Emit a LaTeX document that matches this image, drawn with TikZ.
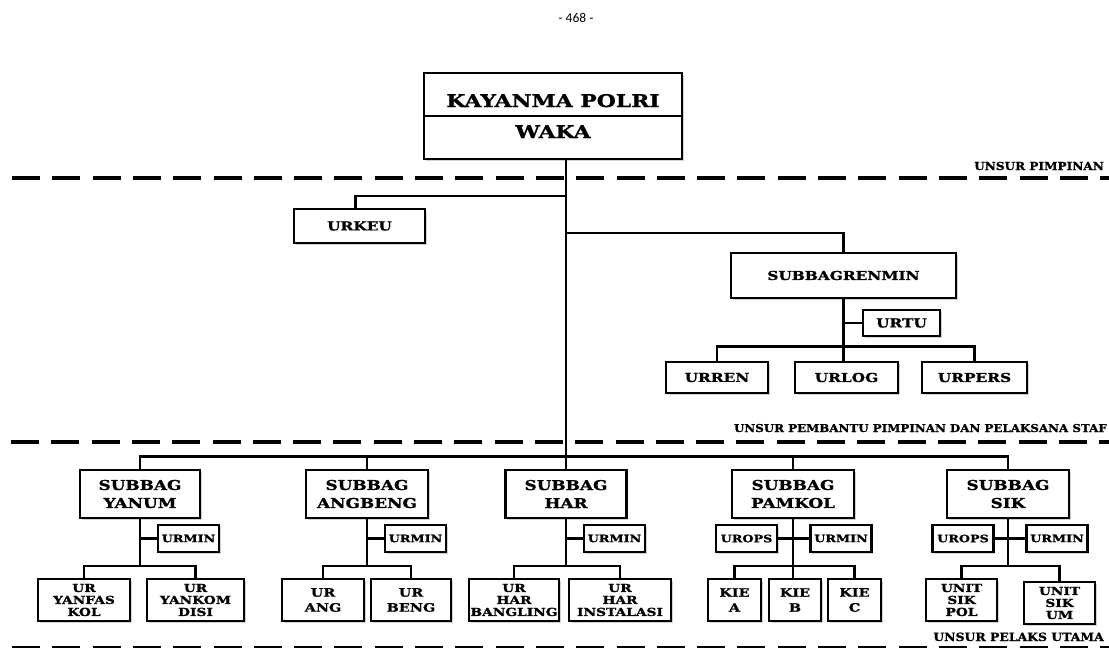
\documentclass[tikz,border=0pt]{standalone}
\usepackage{fontspec}
\newfontfamily\bkf[FakeStretch=1.25, BoldFeatures={FakeBold=1.2}]{DejaVu Serif}
\newfontfamily\lbf[FakeStretch=1.1, BoldFeatures={FakeBold=1.2}]{DejaVu Serif}
\newfontfamily\pagenumfont{Carlito}
\usetikzlibrary{shadows}
\newcommand\fntT{\bkf\bfseries\fontsize{17.5}{20}\selectfont}
\newcommand\fntA{\bkf\bfseries\fontsize{13.5}{18}\selectfont}
\newcommand\fntB{\bkf\bfseries\fontsize{12.3}{15}\selectfont}
\newcommand\fntC{\bkf\bfseries\fontsize{10.2}{12}\selectfont}
\newcommand\fntD{\bkf\bfseries\fontsize{11}{12}\selectfont}
\newcommand\fntE{\bkf\bfseries\fontsize{11.5}{15}\selectfont}
\begin{document}
\begin{tikzpicture}[x=1pt,y=-1pt,
  box/.style={draw=black, line width=2.7pt, fill=white, inner sep=0pt, align=center,
    drop shadow={shadow xshift=1.5pt, shadow yshift=-2pt, opacity=0.3, fill=black!60}},
  conn/.style={line width=2.7pt},
  dashline/.style={line width=3.2pt, dash pattern=on 28pt off 12.3pt},
  lbl/.style={anchor=base east, inner sep=0pt},
  big/.style={box, minimum width=#1, minimum height=48pt, font=\fntA},
  mid/.style={box, minimum width=#1, minimum height=31pt, font=\fntB},
  sml/.style={box, minimum width=61pt, minimum height=27pt, font=\fntC},
  kid/.style={box, minimum width=#1, minimum height=42pt, font=\fntD},
  kidb/.style={box, minimum width=#1, minimum height=42pt, font=\fntE},
]
\useasboundingbox (0,0) rectangle (1109,648);

% page number
\node[font=\pagenumfont\fontsize{13.5}{15}\selectfont, inner sep=0pt] (pgno) at (576,18) {- 468 -};

% dashed separators
\draw[dashline] (12,178) -- (1109,178);
\draw[dashline] (11,442) -- (1109,442);
\draw[dashline] (12,648) -- (1109,648);
\node[lbl, font=\lbf\bfseries\fontsize{11}{12}\selectfont] (l1) at (1104,170) {UNSUR PIMPINAN};
\node[lbl, font=\lbf\bfseries\fontsize{10.8}{12}\selectfont] (l2) at (1107,432) {UNSUR PEMBANTU PIMPINAN DAN PELAKSANA STAF};
\node[lbl, font=\lbf\bfseries\fontsize{11.3}{12}\selectfont] (l3) at (1104,641) {UNSUR PELAKS UTAMA};

% top box
\node[box, minimum width=258pt, minimum height=86pt] (top) at (553,116) {};
\draw[conn] (top.west) -- (top.east);
\node[anchor=base, inner sep=0pt, font=\fntT] (kay) at (553,107) {KAYANMA POLRI};
\node[anchor=base, inner sep=0pt, font=\fntT] (waka) at (553,138) {WAKA};

% staff
\node[box, minimum width=131pt, minimum height=34pt, font=\fntB] (urkeu) at (359.5,226) {URKEU};
\node[box, minimum width=225pt, minimum height=45pt, font=\fntB] (renmin) at (843.5,275.5) {SUBBAGRENMIN};
\node[box, minimum width=77pt, minimum height=26pt, font=\fntB] (urtu) at (901.5,323) {URTU};
\node[mid=102pt] (urren) at (717,377.5) {URREN};
\node[mid=103pt] (urlog) at (846.5,377.5) {URLOG};
\node[mid=105pt] (urpers) at (974.5,377.5) {URPERS};

% subbags
\node[big=120pt] (yanum) at (140,494) {SUBBAG\\YANUM};
\node[big=122pt] (angbeng) at (367,494) {SUBBAG\\ANGBENG};
\node[big=121pt] (har) at (566,494) {SUBBAG\\HAR};
\node[big=122pt] (pamkol) at (793,494) {SUBBAG\\PAMKOL};
\node[big=122pt] (sik) at (1008,494) {SUBBAG\\SIK};

\node[sml] (urminA) at (188.5,538.5) {URMIN};
\node[sml] (urminB) at (415.5,538.5) {URMIN};
\node[sml] (urminC) at (614.5,538.5) {URMIN};
\node[sml] (uropsD) at (746.5,538.5) {UROPS};
\node[sml] (urminD) at (841,538.5) {URMIN};
\node[sml] (uropsE) at (963,538.5) {UROPS};
\node[sml] (urminE) at (1057,538.5) {URMIN};

\node[kid=92pt] (yanfas) at (84,600) {UR\\YANFAS\\KOL};
\node[kid=97pt] (yankom) at (195.5,600) {UR\\YANKOM\\DISI};
\node[kidb=82pt] (ang) at (323,600) {UR\\ANG};
\node[kidb=80pt] (beng) at (411,600) {UR\\BENG};
\node[kid=90pt] (bangling) at (514,600) {UR\\HAR\\BANGLING};
\node[kid=102pt] (instal) at (620,600) {UR\\HAR\\INSTALASI};
\node[kidb=53pt] (kiea) at (734.5,600) {KIE\\A};
\node[kidb=52pt] (kieb) at (795,600) {KIE\\B};
\node[kidb=53pt] (kiec) at (854.5,600) {KIE\\C};
\node[kid=71pt] (sikpol) at (961.5,600) {UNIT\\SIK\\POL};
\node[kid=71pt] (sikum) at (1059.5,603) {UNIT\\SIK\\UM};

% connectors: top level
\draw[conn] (top.south -| har.north) -- (har.north);
\coordinate (kb) at (566,196);
\coordinate (rb) at (566,233);
\draw[conn] (kb) -| ([xshift=-4pt]urkeu.north);
\draw[conn] (rb) -| (renmin.north);
\draw[conn] (renmin.south) -- (renmin.south |- urlog.north);
\draw[conn] (renmin.south |- urtu.west) -- (urtu.west);
\draw[conn] (urren.north) -- ++(0,-14) -| (urpers.north);

% main bus
\draw[conn] (yanum.north) -- ++(0,-12) -| (sik.north);
\draw[conn] (angbeng.north) -- ++(0,-12);
\draw[conn] (pamkol.north) -- ++(0,-12);

% subbag internals
\coordinate (cb) at (0,566);
\draw[conn] (yanum.south) -- (yanum.south |- cb);
\draw[conn] (yanum.south |- urminA.west) -- (urminA.west);
\draw[conn] (yanfas.north) |- (cb -| yankom.north) -- (yankom.north);

\draw[conn] (angbeng.south) -- (angbeng.south |- cb);
\draw[conn] (angbeng.south |- urminB.west) -- (urminB.west);
\draw[conn] (ang.north) |- (cb -| beng.north) -- (beng.north);

\draw[conn] (har.south) -- (har.south |- cb);
\draw[conn] (har.south |- urminC.west) -- (urminC.west);
\draw[conn] (bangling.north) |- (cb -| instal.north) -- (instal.north);

\draw[conn] (pamkol.south) -- (pamkol.south |- kieb.north);
\draw[conn] (uropsD.east) -- (urminD.west);
\draw[conn] (kiea.north) |- (cb -| kiec.north) -- (kiec.north);

\draw[conn] (sik.south) -- (sik.south |- cb);
\draw[conn] (uropsE.east) -- (urminE.west);
\draw[conn] (sikpol.north) |- (cb -| sikum.north) -- (sikum.north);
\end{tikzpicture}
\end{document}
